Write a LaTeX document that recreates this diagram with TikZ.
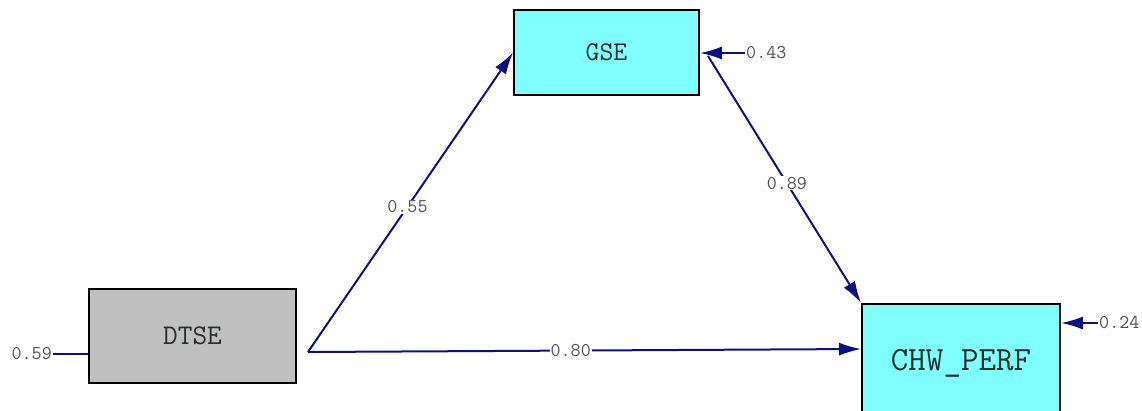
\documentclass[tikz,border=0pt]{standalone}
\usetikzlibrary{arrows.meta}
\definecolor{pathblue}{RGB}{15,15,130}
\definecolor{boxcyan}{RGB}{128,255,255}
\definecolor{boxgray}{RGB}{192,192,192}
\definecolor{numgray}{RGB}{80,80,80}
\definecolor{txtgray}{RGB}{40,45,45}
\begin{document}
\begin{tikzpicture}[x=1pt,y=-1pt,
  varbox/.style={draw=black, line width=1.8pt, rectangle, inner sep=0pt, text=txtgray, font=\ttfamily},
  path/.style={draw=pathblue, line width=2pt},
  arr/.style={path, -{Latex[length=22pt,width=13pt]}},
  num/.style={font=\ttfamily\fontsize{19.5}{19.5}\selectfont, text=numgray, inner sep=1pt},
  numbg/.style={num, fill=white}]
\useasboundingbox (0,0) rectangle (1142,410);
\node[varbox, fill=boxcyan, minimum width=185pt, minimum height=85pt, font=\ttfamily\fontsize{27}{27}\selectfont] (gse) at (606.5,52.5) {GSE};
\node[varbox, fill=boxgray, minimum width=207pt, minimum height=94pt, font=\ttfamily\fontsize{28.5}{28.5}\selectfont] (dtse) at (192.5,336) {DTSE};
\node[varbox, fill=boxcyan, minimum width=198pt, minimum height=112pt, font=\ttfamily\fontsize{34}{34}\selectfont, text depth=0pt] (chw) at (961,360) {CHW\_PERF};
\coordinate (src) at (308,352);
% structural paths
\draw[arr] (src) -- (gse.west) node[numbg, pos=0.485] (l55) {0.55};
\draw[arr] (708,56) coordinate (gsout) -- (chw.north west) node[numbg, pos=0.515] (l89) {0.89};
\draw[arr] (src) -- (chw.west |- 0,349) node[numbg, pos=0.475] (l80) {0.80};
% errors
\node[num, anchor=west] (e43) at (745,53) {0.43};
\draw[arr] (e43.west) -- (gse.east |- e43.west);
\node[num, anchor=west] (e24) at (1098,323) {0.24};
\draw[arr] (e24.west) -- (chw.east |- e24.west);
\node[num, anchor=east] (e59) at (53,354) {0.59};
\draw[path] (e59.east) -- (dtse.west |- e59.east);
\end{tikzpicture}
\end{document}
